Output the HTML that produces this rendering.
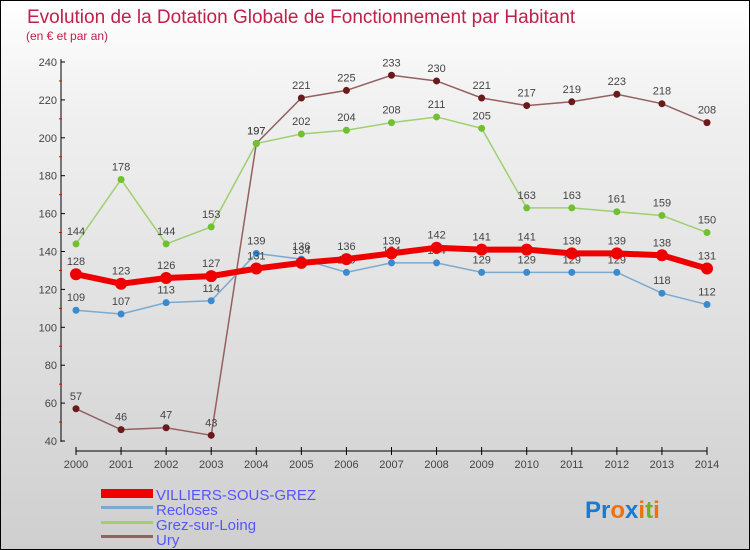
<!DOCTYPE html>
<html><head><meta charset="utf-8"><style>
body{margin:0}
#c{position:relative;width:748px;height:548px;border:1px solid #000;background:linear-gradient(#fff,#f0f0f0 20%,#cfcfcf);font-family:"Liberation Sans",sans-serif;overflow:hidden}
svg text{font-family:"Liberation Sans",sans-serif}
</style></head><body>
<div id="c">
<svg id="s" width="748" height="548">
<text x="26" y="22" font-size="19" fill="#c0204a">Evolution de la Dotation Globale de Fonctionnement par Habitant</text>
<text x="25" y="39" font-size="12" fill="#c0204a">(en € et par an)</text>
<g id="g"></g>
<g>
<rect x="100" y="488" width="52" height="9" fill="#e00"/>
<text x="155" y="499" font-size="15" fill="#55f">VILLIERS-SOUS-GREZ</text>
<rect x="100" y="505" width="52" height="3" fill="#7aaad0"/>
<text x="155" y="514" font-size="15" fill="#55f">Recloses</text>
<rect x="100" y="520" width="52" height="3" fill="#9ed070"/>
<text x="155" y="529" font-size="15" fill="#55f">Grez-sur-Loing</text>
<rect x="100" y="534" width="52" height="3" fill="#946060"/>
<text x="155" y="544" font-size="15" fill="#55f">Ury</text>
</g>
<text x="584" y="517" font-size="24" font-weight="bold"><tspan fill="#1a7ad0">Pr</tspan><tspan fill="#f07010">o</tspan><tspan fill="#1a7ad0">x</tspan><tspan fill="#f07010">i</tspan><tspan fill="#70b020">t</tspan><tspan fill="#f07010">i</tspan></text>
</svg></div>
<script>
const years=["2000","2001","2002","2003","2004","2005","2006","2007","2008","2009","2010","2011","2012","2013","2014"];
const yTicks=[40,60,80,100,120,140,160,180,200,220,240];
const villiers=[128,123,126,127,131,134,136,139,142,141,141,139,139,138,131];
const recloses=[109,107,113,114,139,136,129,134,134,129,129,129,129,118,112];
const grez=[144,178,144,153,197,202,204,208,211,205,163,163,161,159,150];
const ury=[57,46,47,43,197,221,225,233,230,221,217,219,223,218,208];
const g=document.getElementById('g');const NS="http://www.w3.org/2000/svg";
const X=i=>75+i*(706-75)/14;const Y=v=>440-(v-40)*(440-61)/200;
function mk(t,a,p){const e=document.createElementNS(NS,t);for(const k in a)e.setAttribute(k,a[k]);(p||g).appendChild(e);return e;}
let e=mk('line',{x1:60,y1:58,x2:60,y2:441,stroke:'#000'});


e=mk('line',{x1:75,y1:450,x2:706,y2:450,stroke:'#000'});


yTicks.forEach(v=>{mk('line',{x1:60,y1:Y(v),x2:64,y2:Y(v),stroke:'#000'});
if(v<240)mk('line',{x1:58,y1:Y(v+10),x2:61,y2:Y(v+10),stroke:'#e00'});
const t=mk('text',{x:56,y:Y(v)+4,'font-size':11,fill:'#444','text-anchor':'end'});t.textContent=v;

});
years.forEach((y,i)=>{mk('line',{x1:X(i),y1:446,x2:X(i),y2:454,stroke:'#000'});
const t=mk('text',{x:X(i),y:467,'font-size':11,fill:'#444','text-anchor':'middle'});t.textContent=y;

});
function series(d,col,dot,w,r,name){const s=mk('g',{});


mk('polyline',{points:d.map((v,i)=>X(i)+','+Y(v)).join(' '),fill:'none',stroke:col,'stroke-width':w},s);
d.forEach((v,i)=>{const c=mk('circle',{cx:X(i),cy:Y(v),r:r,fill:dot},s);


const t=mk('text',{x:X(i),y:Y(v)-9,'font-size':11,fill:'#444','text-anchor':'middle'},s);t.textContent=v;

});}
series(ury,'#946060','#6a1a1a',1.5,3.5,'ury');
series(grez,'#9ed070','#70c030',1.5,3.5,'grez');
series(recloses,'#7aaad0','#3a8ad0',1.5,3.5,'recloses');
series(villiers,'#e00','#e00',6,6,'villiers');
</script></body></html>
